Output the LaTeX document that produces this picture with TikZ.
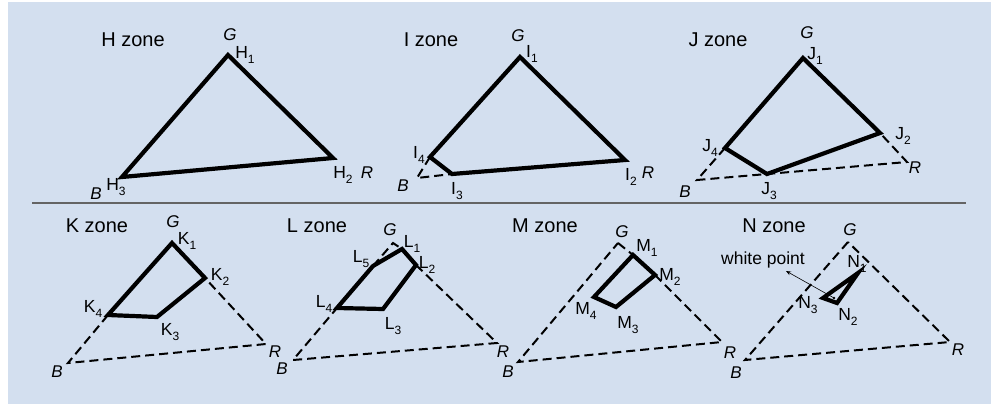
\documentclass[tikz,border=0pt]{standalone}
\usepackage{fontspec}
\setmainfont{Liberation Sans}
\usetikzlibrary{arrows.meta}
\definecolor{panel}{RGB}{211,223,239}
\definecolor{sepcol}{RGB}{100,100,100}
\newcommand\sublab[2]{#1\raisebox{-0.45ex}{\fontsize{12}{12}\selectfont #2}}
\begin{document}
\begin{tikzpicture}[x=1pt,y=-1pt,
 thickline/.style={line width=4.2pt},
 dashline/.style={line width=2pt, dash pattern=on 9pt off 5pt},
 zonetitle/.style={font=\fontsize{20}{20}\selectfont, inner sep=0},
 vlab/.style={font=\fontsize{17.5}{17.5}\selectfont, inner sep=0},
 plab/.style={font=\fontsize{17}{17}\selectfont\itshape, inner sep=0}]
\useasboundingbox (0,0) rectangle (996,404);
\fill[panel] (8,2) rectangle (991,404);
\coordinate (sepL) at (32,203);
\coordinate (sepR) at (966,203);
\draw[sepcol, line width=2pt] (sepL) -- (sepR);

% ---------- H zone
\node[zonetitle] (hT) at (133,40) {H zone};
\coordinate (h1) at (228,55);
\coordinate (h2) at (333,158);
\coordinate (h3) at (122,177);
\draw[thickline] (h1) -- (h2) -- (h3) -- cycle;
\node[plab] (hG) at (230,35) {G};
\node[plab] (hB) at (96,194) {B};
\node[plab] (hR) at (367,173) {R};
\node[vlab] (h1l) at (245,55) {\sublab{H}{1}};
\node[vlab] (h2l) at (343,175) {\sublab{H}{2}};
\node[vlab] (h3l) at (116,187) {\sublab{H}{3}};

% ---------- I zone
\node[zonetitle] (iT) at (431,40) {I zone};
\coordinate (i1) at (520,57);
\coordinate (i2) at (625,160);
\coordinate (i3) at (452,174);
\coordinate (i4) at (430,157);
\coordinate (iB) at (417,178);
\draw[dashline] (i4) -- (iB) -- (i3);
\draw[thickline] (i1) -- (i2) -- (i3) -- (i4) -- cycle;
\node[plab] (iG) at (518,36) {G};
\node[plab] (iBl) at (403,186) {B};
\node[plab] (iR) at (648,173) {R};
\node[vlab] (i1l) at (532,54) {\sublab{I}{1}};
\node[vlab] (i2l) at (631,177) {\sublab{I}{2}};
\node[vlab] (i3l) at (457,191) {\sublab{I}{3}};
\node[vlab] (i4l) at (419,155) {\sublab{I}{4}};

% ---------- J zone
\node[zonetitle] (jT) at (718,40) {J zone};
\coordinate (j1) at (803,58);
\coordinate (j2) at (880,133);
\coordinate (j3) at (767,174);
\coordinate (j4) at (725,148);
\coordinate (jB) at (697,180);
\coordinate (jR) at (907,162);
\draw[dashline] (j4) -- (jB) -- (jR) -- (j2);
\draw[thickline] (j1) -- (j2) -- (j3) -- (j4) -- cycle;
\node[plab] (jG) at (807,33) {G};
\node[plab] (jBl) at (685,192) {B};
\node[plab] (jRl) at (915,168) {R};
\node[vlab] (j1l) at (815,56) {\sublab{J}{1}};
\node[vlab] (j2l) at (903,136) {\sublab{J}{2}};
\node[vlab] (j3l) at (769,191) {\sublab{J}{3}};
\node[vlab] (j4l) at (710,148) {\sublab{J}{4}};

% ---------- K zone
\node[zonetitle] (kT) at (97,226) {K zone};
\coordinate (k1) at (172,243);
\coordinate (k2) at (205,278);
\coordinate (k3) at (157,317);
\coordinate (k4) at (108,315);
\coordinate (kB) at (68,363);
\coordinate (kR) at (266,344);
\draw[dashline] (k4) -- (kB) -- (kR) -- (k2);
\draw[thickline] (k1) -- (k2) -- (k3) -- (k4) -- cycle;
\node[plab] (kG) at (173,222) {G};
\node[plab] (kBl) at (57,372) {B};
\node[plab] (kRl) at (275,352) {R};
\node[vlab] (k1l) at (187,241) {\sublab{K}{1}};
\node[vlab] (k2l) at (220,277) {\sublab{K}{2}};
\node[vlab] (k3l) at (170,332) {\sublab{K}{3}};
\node[vlab] (k4l) at (93,309) {\sublab{K}{4}};

% ---------- L zone
\node[zonetitle] (lT) at (317,226) {L zone};
\coordinate (lG) at (393,243);
\coordinate (l1) at (402,249);
\coordinate (l2) at (416,265);
\coordinate (l3) at (383,309);
\coordinate (l4) at (337,308);
\coordinate (l5) at (373,266);
\coordinate (lB) at (293,360);
\coordinate (lR) at (497,343);
\draw[dashline] (l5) -- (lG) -- (l1);
\draw[dashline] (l2) -- (lR) -- (lB) -- (l4);
\draw[thickline] (l1) -- (l2) -- (l3) -- (l4) -- (l5) -- cycle;
\node[plab] (lGl) at (390,230) {G};
\node[plab] (lBl) at (282,369) {B};
\node[plab] (lRl) at (503,352) {R};
\node[vlab] (l1l) at (412,244) {\sublab{L}{1}};
\node[vlab] (l2l) at (427,265) {\sublab{L}{2}};
\node[vlab] (l3l) at (393,326) {\sublab{L}{3}};
\node[vlab] (l4l) at (324,304) {\sublab{L}{4}};
\node[vlab] (l5l) at (361,259) {\sublab{L}{5}};

% ---------- M zone
\node[zonetitle] (mT) at (545,226) {M zone};
\coordinate (mG) at (618,243);
\coordinate (m1) at (633,255);
\coordinate (m2) at (655,275);
\coordinate (m3) at (616,307);
\coordinate (m4) at (594,297);
\coordinate (mB) at (518,362);
\coordinate (mR) at (722,342);
\draw[dashline] (mG) -- (m1);
\draw[dashline] (m2) -- (mR) -- (mB) -- (mG);
\draw[thickline] (m1) -- (m2) -- (m3) -- (m4) -- cycle;
\node[plab] (mGl) at (622,232) {G};
\node[plab] (mBl) at (508,372) {B};
\node[plab] (mRl) at (730,353) {R};
\node[vlab] (m1l) at (647,248) {\sublab{M}{1}};
\node[vlab] (m2l) at (670,277) {\sublab{M}{2}};
\node[vlab] (m3l) at (628,325) {\sublab{M}{3}};
\node[vlab] (m4l) at (586,311) {\sublab{M}{4}};

% ---------- N zone
\node[zonetitle] (nT) at (774,226) {N zone};
\coordinate (nG) at (848,242);
\coordinate (n1) at (858,273);
\coordinate (n2) at (837,303);
\coordinate (n3) at (823,298);
\coordinate (nB) at (745,360);
\coordinate (nR) at (950,342);
\coordinate (wp) at (834,298);
\coordinate (wpEnd) at (786,271);
\draw[dashline] (nG) -- (nB) -- (nR) -- cycle;
\draw[thickline] (n1) -- (n2) -- (n3) -- cycle;
\fill (wp) circle (1.3pt);
\draw[line width=0.6pt, -{Stealth[length=5pt,width=4pt]}] (wp) -- (wpEnd);
\node[inner sep=0, font=\fontsize{17.5}{17.5}\selectfont] (wpl) at (763,260) {white point};
\node[plab] (nGl) at (850,230) {G};
\node[plab] (nBl) at (736,373) {B};
\node[plab] (nRl) at (958,350) {R};
\node[vlab] (n1l) at (857,264) {\sublab{N}{1}};
\node[vlab] (n2l) at (848,317) {\sublab{N}{2}};
\node[vlab] (n3l) at (808,305) {\sublab{N}{3}};
\end{tikzpicture}
\end{document}
